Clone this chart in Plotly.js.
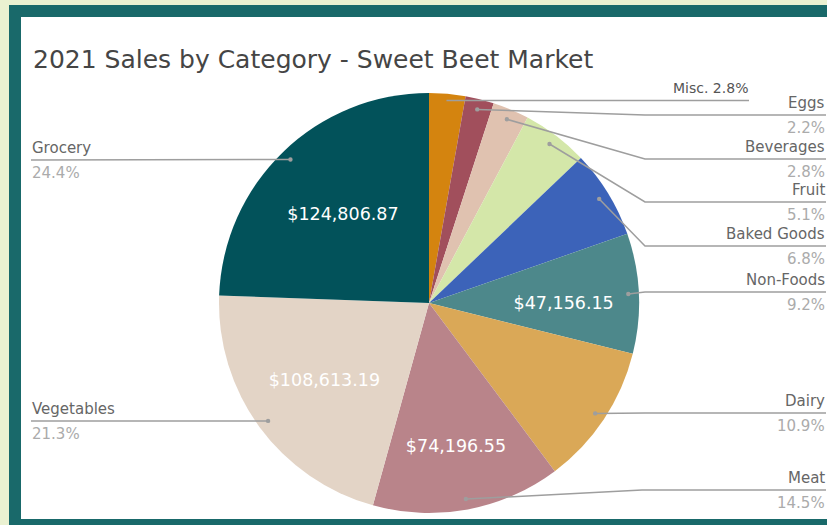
<!DOCTYPE html>
<html>
<head>
<meta charset="utf-8">
<script src="https://cdn.plot.ly/plotly-3.0.1.min.js"></script>
<style>
  html, body { margin: 0; padding: 0; width: 827px; height: 525px; overflow: hidden; background: #eaf1d1; }
  #frame { position: absolute; left: 9px; top: 5px; width: 900px; height: 600px; background: #19696a; }
  #panel { position: absolute; left: 21px; top: 17px; width: 900px; height: 502px; background: #ffffff; }
  #chart { position: absolute; left: 0; top: 0; width: 827px; height: 525px; }
</style>
</head>
<body>
<div id="frame"></div>
<div id="panel"></div>
<div id="chart"></div>
<script>
// ---- data ----
const categories = ['Misc.', 'Eggs', 'Beverages', 'Fruit', 'Baked Goods', 'Non-Foods', 'Dairy', 'Meat', 'Vegetables', 'Grocery'];
const sales = [14250, 11200, 14280, 26000, 34700, 47156.15, 55597, 74196.55, 108613.19, 124806.87];
const valueShownInside = [false, false, false, false, false, true, false, true, true, true];
const sliceColors = ['#d4840f', '#a14f5c', '#e0c2b0', '#d4e7a9', '#3c63b9', '#4d888b', '#daa857', '#b9848a', '#e3d4c6', '#02525a'];

// ---- layout configuration (pixels) ----
const W = 827, H = 525;
const M = { l: 0, r: 0, t: 93, b: 12 };
const plotH = H - M.t - M.b;            // 420
const cx = 429;                          // pie centre x (pixels)
const R = plotH / 2;                     // pie radius
const cy = M.t + R;
const px2x = x => x / W;
const px2y = y => (H - M.b - y) / plotH;

// label placement per slice: side, leader-line row, elbow x
const labelCfg = {
  'Misc.':       { side: 'misc',  lineY: 100.5, elbow: null, end: 749 },
  'Eggs':        { side: 'right', lineY: 115,   elbow: 645 },
  'Beverages':   { side: 'right', lineY: 159,   elbow: 645 },
  'Fruit':       { side: 'right', lineY: 202,   elbow: 645 },
  'Baked Goods': { side: 'right', lineY: 246,   elbow: 645 },
  'Non-Foods':   { side: 'right', lineY: 292,   elbow: 645 },
  'Dairy':       { side: 'right', lineY: 413,   elbow: 645 },
  'Meat':        { side: 'right', lineY: 490,   elbow: 642 },
  'Vegetables':  { side: 'left',  lineY: 421,   elbow: null },
  'Grocery':     { side: 'left',  lineY: 160,   elbow: null }
};
const rightEnd = 826, leftEnd = 31;
const FONT = 'DejaVu Sans';
const lineColor = '#9e9e9e';

const total = sales.reduce((a, b) => a + b, 0);
const shapes = [];
const annotations = [];
let cum = 0;
sales.forEach((v, i) => {
  const frac = v / total;
  const mid = (cum + frac / 2) * 2 * Math.PI;   // clockwise from 12 o'clock
  cum += frac;
  const rr = 0.95 * R;
  const dx = cx + rr * Math.sin(mid);
  const dy = cy - rr * Math.cos(mid);
  const name = categories[i];
  const cfg = labelCfg[name];
  const pct = (frac * 100).toFixed(1) + '%';
  let path;
  if (cfg.side === 'misc') {
    path = `M ${px2x(dx)},${px2y(cfg.lineY)} L ${px2x(cfg.end)},${px2y(cfg.lineY)}`;
    annotations.push({ xref: 'paper', yref: 'paper', x: px2x(cfg.end + 1), y: px2y(cfg.lineY - 2),
      xanchor: 'right', yanchor: 'bottom', showarrow: false, text: name + ' ' + pct,
      font: { family: FONT, size: 14, color: '#555555' } });
  } else if (cfg.side === 'right') {
    path = `M ${px2x(dx)},${px2y(dy)} L ${px2x(cfg.elbow)},${px2y(cfg.lineY)} L ${px2x(rightEnd)},${px2y(cfg.lineY)}`;
    annotations.push({ xref: 'paper', yref: 'paper', x: px2x(rightEnd + 1), y: px2y(cfg.lineY - 1),
      xanchor: 'right', yanchor: 'bottom', showarrow: false, text: name,
      font: { family: FONT, size: 15, color: '#666666' } });
    annotations.push({ xref: 'paper', yref: 'paper', x: px2x(rightEnd + 1), y: px2y(cfg.lineY + 2),
      xanchor: 'right', yanchor: 'top', showarrow: false, text: pct,
      font: { family: FONT, size: 15, color: '#ababab' } });
  } else {
    path = `M ${px2x(dx)},${px2y(dy)} L ${px2x(leftEnd)},${px2y(cfg.lineY)}`;
    annotations.push({ xref: 'paper', yref: 'paper', x: px2x(leftEnd - 1), y: px2y(cfg.lineY - 1),
      xanchor: 'left', yanchor: 'bottom', showarrow: false, text: name,
      font: { family: FONT, size: 15, color: '#666666' } });
    annotations.push({ xref: 'paper', yref: 'paper', x: px2x(leftEnd - 1), y: px2y(cfg.lineY + 2),
      xanchor: 'left', yanchor: 'top', showarrow: false, text: pct,
      font: { family: FONT, size: 15, color: '#ababab' } });
  }
  shapes.push({ type: 'path', xref: 'paper', yref: 'paper', path: path,
    line: { color: lineColor, width: 1.5 } });
  if (cfg.side !== 'misc') {
    shapes.push({ type: 'circle', xref: 'paper', yref: 'paper',
      x0: px2x(dx - 2.2), x1: px2x(dx + 2.2), y0: px2y(dy - 2.2), y1: px2y(dy + 2.2),
      fillcolor: lineColor, line: { width: 0 } });
  }
});

const trace = {
  type: 'pie',
  labels: categories,
  values: sales,
  sort: false,
  direction: 'clockwise',
  rotation: 0,
  marker: { colors: sliceColors, line: { width: 0 } },
  texttemplate: valueShownInside.map(s => s ? '$%{value:,.2f}' : ''),
  textposition: 'inside',
  insidetextorientation: 'horizontal',
  textfont: { family: FONT, size: 17.5, color: '#ffffff' },
  hoverinfo: 'skip',
  showlegend: false,
  domain: { x: [px2x(cx - R), px2x(cx + R)], y: [0, 1] }
};

const layout = {
  width: W, height: H,
  margin: M,
  paper_bgcolor: 'rgba(0,0,0,0)',
  plot_bgcolor: 'rgba(0,0,0,0)',
  showlegend: false,
  title: {
    text: '2021 Sales by Category - Sweet Beet Market',
    font: { family: FONT, size: 25, color: '#454545' },
    xref: 'container', yref: 'container',
    x: 33 / W, xanchor: 'left',
    y: 1 - 59 / H, yanchor: 'middle'
  },
  shapes: shapes,
  annotations: annotations
};

Plotly.newPlot('chart', [trace], layout, { staticPlot: true, displayModeBar: false });
</script>
</body>
</html>
